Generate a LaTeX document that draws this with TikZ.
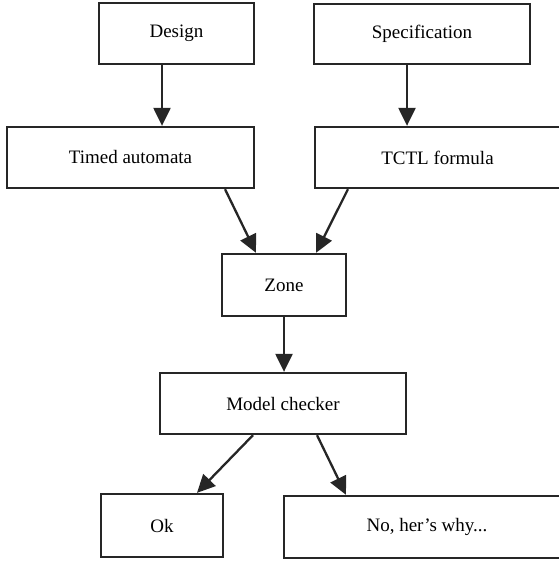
\documentclass[tikz,border=0pt]{standalone}
\usepackage{fontspec}
\setmainfont{Liberation Serif}
\usetikzlibrary{arrows.meta}

\begin{document}
\begin{tikzpicture}[x=1pt,y=-1pt,
  box/.style={draw=black!85,line width=2.3pt,fill=white,inner sep=0pt,
    font=\fontsize{19}{22}\selectfont},
  arr/.style={-{Triangle[length=18pt,width=17pt]},line width=2.3pt,draw=black!85,fill=black!85}]

\useasboundingbox (0,0) rectangle (558,564);

\node[box,minimum width=155pt,minimum height=61pt] (design) at (176.5,33.5) {Design};
\node[box,minimum width=216pt,minimum height=60pt] (spec) at (422,34) {Specification};

\node[box,minimum width=247pt,minimum height=61pt] (timed) at (130.5,157.5) {Timed automata};
\node[box,minimum width=245pt,minimum height=61pt] (tctl) at (437.5,157.5) {TCTL formula};

\node[box,minimum width=124pt,minimum height=62pt] (zone) at (284,285) {Zone};

\node[box,minimum width=246pt,minimum height=61pt] (mc) at (283,403.5) {Model checker};

\node[box,minimum width=122pt,minimum height=63pt] (ok) at (162,525.5) {Ok};
\node[box,minimum width=286pt,minimum height=62pt] (no) at (427,527) {No, her's why...};

\draw[arr] ([xshift=-14.5pt]design.south) -- ([xshift=31.5pt]timed.north);
\draw[arr] ([xshift=-15pt]spec.south) -- ([xshift=-30.5pt]tctl.north);

\draw[arr] ([xshift=94.5pt]timed.south) -- ([xshift=-28pt]zone.north);
\draw[arr] ([xshift=-89.5pt]tctl.south) -- ([xshift=32pt]zone.north);

\draw[arr] (zone.south) -- ([xshift=1pt]mc.north);

\draw[arr] ([xshift=-30pt]mc.south) -- ([xshift=35pt]ok.north);
\draw[arr] ([xshift=34pt]mc.south) -- ([xshift=-81pt]no.north);

\end{tikzpicture}
\end{document}
